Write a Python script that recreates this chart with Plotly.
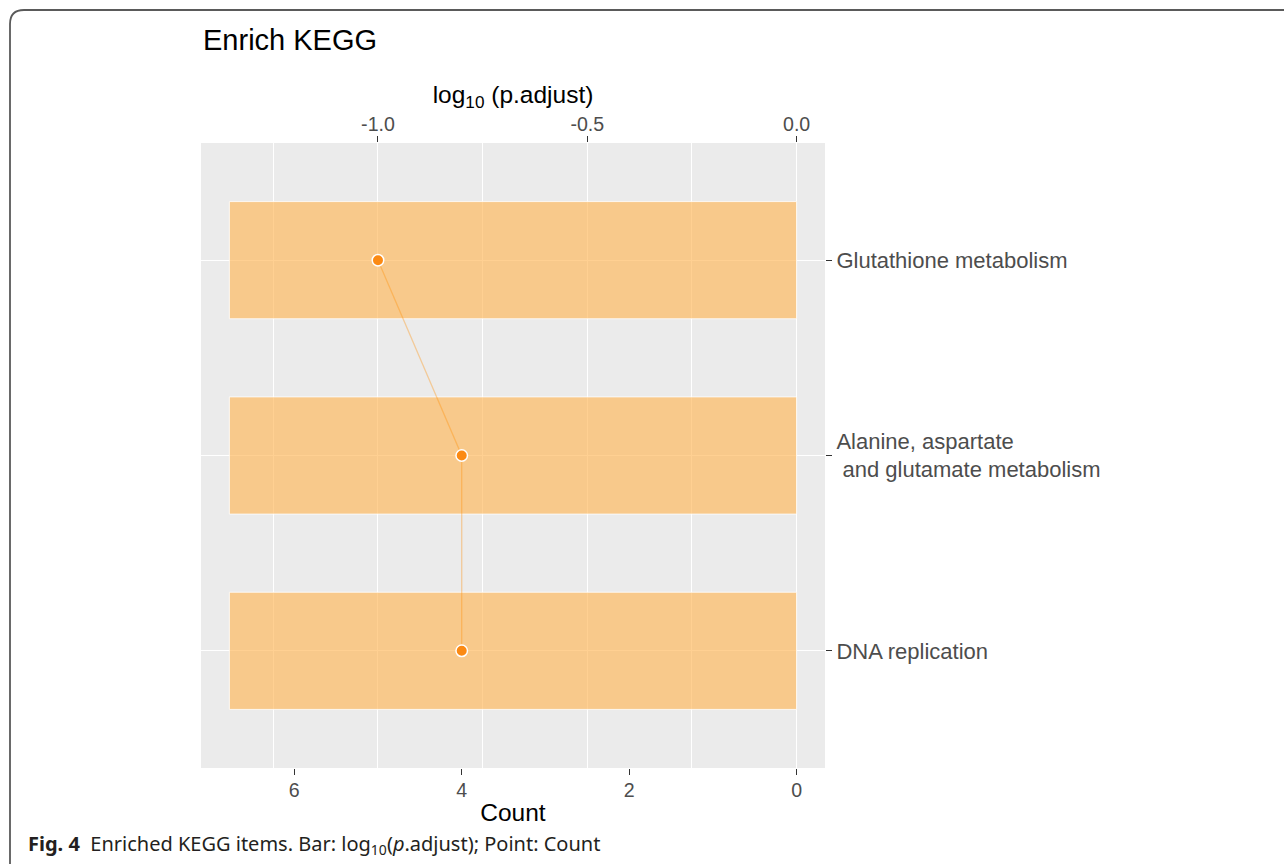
import plotly.graph_objects as go

# ---- data ----
categories = ["Glutathione metabolism",
              "Alanine, aspartate<br>\u00a0and glutamate metabolism",
              "DNA replication"]
log10_padjust = [-1.355, -1.355, -1.355]
counts = [5, 4, 4]
log_ticks = [-1.0, -0.5, 0.0]
log_tick_labels = ["-1.0", "-0.5", "0.0"]
count_ticks = [0, 2, 4, 6]
count_tick_labels = ["0", "2", "4", "6"]
COUNT_PER_LOG = 5  # secondary-axis transform: Count = -5 * log10(p.adjust)

W, H = 1284, 864
L, R, T, B = 201, 459, 143, 96
PW, PH = W - L - R, H - T - B

def px(x):
    return (x - L) / PW

def py(y):
    return (H - B - y) / PH

span = abs(min(log10_padjust))
xr = [min(log10_padjust) - 0.05 * span, 0 + 0.05 * span]
x2r = [-COUNT_PER_LOG * xr[0], -COUNT_PER_LOG * xr[1]]

font = "Liberation Sans, Arial, sans-serif"
tickcol = "#4D4D4D"

fig = go.Figure()
fig.add_trace(go.Bar(
    x=log10_padjust, y=categories, orientation="h", width=0.6,
    marker=dict(color="rgba(255,183,87,0.65)",
                line=dict(color="rgba(255,255,255,0.8)", width=1)),
    xaxis="x", yaxis="y", showlegend=False, hoverinfo="skip"))
fig.add_trace(go.Scatter(
    x=counts, y=categories, mode="lines", xaxis="x2", yaxis="y",
    line=dict(color="rgba(255,140,0,0.35)", width=1.3),
    showlegend=False, hoverinfo="skip"))
fig.add_trace(go.Scatter(
    x=counts, y=categories, mode="markers", xaxis="x2", yaxis="y",
    marker=dict(color="#FB8A14", size=11.5, line=dict(color="white", width=1.5)),
    showlegend=False, hoverinfo="skip"))

fig.update_layout(
    width=W, height=H,
    margin=dict(l=L, r=R, t=T, b=B, pad=0),
    paper_bgcolor="white", plot_bgcolor="#EBEBEB",
    font=dict(family=font, color="black"),
    xaxis=dict(
        side="top", anchor="y", range=xr,
        tickvals=log_ticks, ticktext=log_tick_labels,
        tickfont=dict(size=19.6, color=tickcol),
        ticks="outside", ticklen=6, tickwidth=1.1, tickcolor="#333333",
        ticklabelstandoff=-3,
        showgrid=True, gridcolor="white", gridwidth=1.1, zeroline=False,
        showline=False,
        minor=dict(tickvals=[-1.25, -0.75, -0.25], showgrid=True,
                   gridcolor="white", gridwidth=0.55, ticks=""),
        title=dict(text="log<sub>10</sub> (p.adjust)", font=dict(size=24.5, color="black"),
                   standoff=2),
    ),
    xaxis2=dict(
        overlaying="x", side="bottom", anchor="y", range=x2r,
        tickvals=count_ticks, ticktext=count_tick_labels,
        tickfont=dict(size=19.6, color=tickcol),
        ticks="outside", ticklen=6, tickwidth=1.1, tickcolor="#333333",
        ticklabelstandoff=-2,
        showgrid=False, zeroline=False, showline=False,
        title=dict(text="Count", font=dict(size=24.5, color="black"), standoff=4),
    ),
    yaxis=dict(
        type="category", categoryorder="array", categoryarray=categories,
        range=[2.6, -0.6], side="right",
        tickfont=dict(size=22, color=tickcol),
        ticks="outside", ticklen=6, tickwidth=1.1, tickcolor="#333333",
        ticklabelstandoff=0,
        showgrid=True, gridcolor="white", gridwidth=1.1, zeroline=False,
        showline=False,
    ),
    annotations=[
        dict(text="Enrich KEGG", xref="paper", yref="paper", x=px(201), y=py(40),
             xanchor="left", yanchor="middle", showarrow=False,
             font=dict(size=29, color="black", family=font)),
        dict(text="<b>Fig. 4</b>\u00a0\u00a0Enriched KEGG items. Bar: log<sub>10</sub>(<i>p</i>.adjust); Point: Count",
             xref="paper", yref="paper", x=px(26), y=py(844),
             xanchor="left", yanchor="middle", showarrow=False,
             font=dict(size=20, color="#231F20", family="Noto Sans, Open Sans, sans-serif")),
    ],
    shapes=[
        dict(type="path", xref="paper", yref="paper",
             path=(f"M {px(10)},{py(870)} L {px(10)},{py(24)} "
                   f"Q {px(10)},{py(10)} {px(24)},{py(10)} L {px(1290)},{py(10)}"),
             line=dict(color="#5A5A5A", width=1.8)),
    ],
)

fig.write_html("out.html")
